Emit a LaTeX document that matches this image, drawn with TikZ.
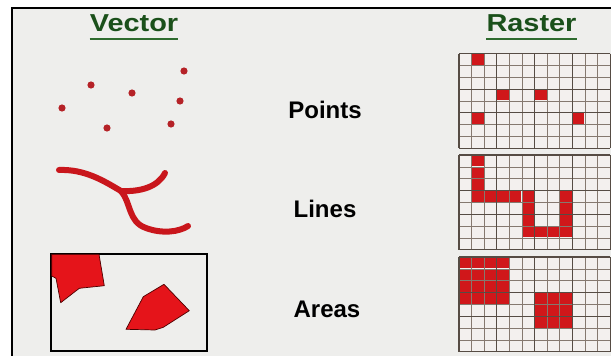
\documentclass[tikz,border=0pt]{standalone}
\usepackage{fontspec}
\usepackage{graphicx}
\newfontfamily\arialfont{Liberation Sans}
\usetikzlibrary{positioning}
\definecolor{bgray}{HTML}{EEEEEC}
\definecolor{titlegreen}{HTML}{1A501A}
\definecolor{ulgreen}{HTML}{2E6B2E}
\definecolor{gridline}{HTML}{85796F}
\definecolor{gridthick}{HTML}{564C44}
\definecolor{cellbg}{HTML}{F3F0EE}
\definecolor{rastred}{HTML}{D0171A}
\definecolor{dotred}{HTML}{B52227}
\definecolor{linered}{HTML}{C9161C}
\definecolor{areared}{HTML}{E5141A}
\newcommand\cw{12.6}
\newcommand\rh{11.85}
\newcommand\gx{459}
% one raster panel: #1 = top edge, #2 = list of col/row cells
\newcommand\rastergrid[2]{%
  \fill[cellbg] (\gx,#1) rectangle (\gx+12*\cw,#1+8*\rh);
  \foreach \c/\r in {#2}
    \fill[rcell] (\gx+\c*\cw+0.6,#1+\r*\rh+0.6) rectangle (\gx+\c*\cw+\cw-0.6,#1+\r*\rh+\rh-0.6);
  \foreach \i in {0,...,12}
    \draw[gthin] (\gx+\i*\cw,#1) -- (\gx+\i*\cw,#1+8*\rh);
  \foreach \j in {0,...,8}
    \draw[gthin] (\gx,#1+\j*\rh) -- (\gx+12*\cw,#1+\j*\rh);
  \foreach \i in {0,3,6,9,12}
    \draw[gthick] (\gx+\i*\cw,#1) -- (\gx+\i*\cw,#1+8*\rh);
  \foreach \j in {0,3,5,8}
    \draw[gthick] (\gx,#1+\j*\rh) -- (\gx+12*\cw,#1+\j*\rh);
}

\begin{document}
\begin{tikzpicture}[x=1pt,y=-1pt,
 title/.style={font=\arialfont\bfseries\fontsize{24.5}{28}\selectfont,text=titlegreen,anchor=base,inner sep=0pt},
 kind/.style={font=\arialfont\bfseries\fontsize{24}{28}\selectfont,anchor=base,inner sep=0pt},
 uline/.style={draw=ulgreen,line width=2pt},
 gthin/.style={draw=gridline,line width=0.65pt},
 gthick/.style={draw=gridthick,line width=1.1pt},
 rcell/.style={fill=rastred},
 vdot/.style={fill=dotred},
 vline/.style={draw=linered,line width=6pt,line cap=round,line join=round},
 varea/.style={fill=areared,draw=black!70!red,line width=0.7pt,line join=round}]
\useasboundingbox (0,0) rectangle (611,356);
\clip (0,0) rectangle (611,356);
\fill[white] (0,0) rectangle (611,356);
\fill[bgray] (12,8) rectangle (640,380);
\draw[line width=2.6pt] (12,8) rectangle (640,380);

% headings
\node[title] (vec) at (134,31.5) {\scalebox{1.18}[1]{Vector}};
\node[title] (ras) at (531.5,31.5) {\scalebox{1.18}[1]{Raster}};
\draw[uline] (vec.west |- 0,38.5) -- (vec.east |- 0,38.5);
\draw[uline] (ras.west |- 0,38.5) -- (ras.east |- 0,38.5);

% row labels
\node[kind] (pts) at (325,118) {Points};
\node[kind] (lns) at (325,217.5) {Lines};
\node[kind] (ars) at (327,317.7) {Areas};

% vector points
\foreach \x/\y in {184/71,91/85,132/93,180/101,62/108,107/128,171/124}
  \fill[vdot] (\x,\y) circle (3.6pt);

% vector lines
\coordinate (fork) at (121,191);
\draw[vline] (59,170) .. controls (85,169) and (104,181) .. (fork);
\draw[vline] (fork) .. controls (140,192) and (158,187) .. (165,173);
\draw[vline] (fork) .. controls (131,202) and (128,222) .. (146,228)
  .. controls (162,234) and (179,232) .. (188,226);

% vector areas
\draw[line width=1.1pt] (51,254) rectangle (207,351);
\draw[varea] (51.7,254.3) -- (99,254.3) -- (104.3,285.7) -- (79.3,288.3)
  -- (60.7,302.7) -- (56,278.3) -- (51.7,276) -- cycle;
\draw[varea] (126,329.3) -- (143.3,296.7) -- (164,284.3) -- (189.3,310.7)
  -- (163.3,327.3) -- (155,330) -- cycle;

% raster panels
\rastergrid{53.5}{1/0,3/3,6/3,1/5,9/5}
\rastergrid{155}{1/0,1/1,1/2,1/3,2/3,3/3,4/3,5/3,5/4,5/5,5/6,6/6,7/6,8/6,8/5,8/4,8/3}
\rastergrid{257}{0/0,1/0,2/0,3/0,0/1,1/1,2/1,3/1,0/2,1/2,2/2,3/2,0/3,1/3,2/3,3/3,6/3,7/3,8/3,6/4,7/4,8/4,6/5,7/5,8/5}
\end{tikzpicture}
\end{document}
